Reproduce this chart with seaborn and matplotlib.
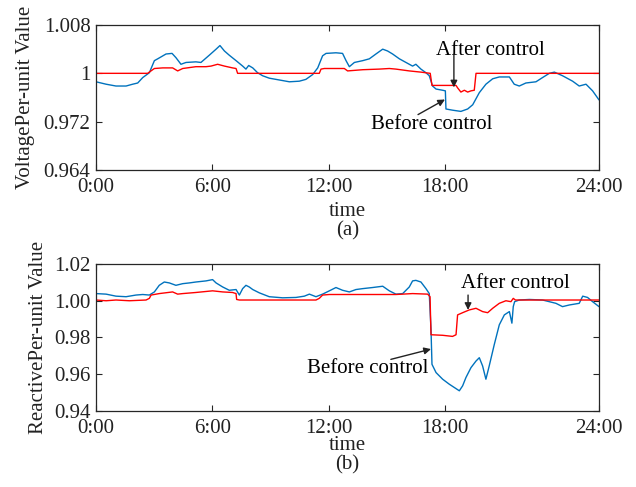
import matplotlib
matplotlib.use("Agg")
import matplotlib.pyplot as plt
import seaborn as sns
import pandas as pd

# ---------------- data (x in hours-of-axis units, as drawn) ----------------
volt_before_t = [0.00, 0.52, 1.03, 1.55, 1.89, 2.15, 2.41, 2.75, 3.01, 3.18, 3.61, 3.92, 4.12, 4.38,
                 4.64, 5.15, 5.41, 5.84, 6.19, 6.39, 6.62, 6.87, 7.22, 7.56, 7.73, 7.87, 8.08, 8.33,
                 8.59, 8.93, 9.45, 9.97, 10.48, 10.82, 11.17, 11.43, 11.68, 11.86, 12.37, 12.71,
                 12.89, 13.06, 13.32, 13.75, 14.09, 14.43, 14.78, 15.03, 15.29, 15.64, 15.98, 16.32,
                 16.49, 16.75, 17.01, 17.18, 17.35, 17.53, 17.87, 18.01, 18.04, 18.38, 18.81, 19.16,
                 19.42, 19.76, 20.10, 20.45, 20.79, 21.31, 21.56, 21.82, 22.16, 22.68, 23.02, 23.37,
                 23.63, 24.05, 24.57, 24.91, 25.26, 25.60, 25.93]
volt_before_v = [0.9986, 0.9982, 0.9979, 0.9979, 0.9982, 0.9984, 0.9993, 1.0001, 1.0021, 1.0024,
                 1.0032, 1.0033, 1.0026, 1.0015, 1.0018, 1.0019, 1.0018, 1.0030, 1.0040, 1.0046,
                 1.0037, 1.0030, 1.0021, 1.0012, 1.0007, 1.0013, 1.0009, 1.0001, 0.9996, 0.9992,
                 0.9989, 0.9986, 0.9987, 0.9990, 0.9998, 1.0009, 1.0029, 1.0033, 1.0034, 1.0033,
                 1.0021, 1.0011, 1.0018, 1.0021, 1.0024, 1.0032, 1.0040, 1.0037, 1.0032, 1.0024,
                 1.0018, 1.0012, 1.0015, 1.0007, 1.0001, 0.9996, 0.9979, 0.9974, 0.9972, 0.9971,
                 0.9941, 0.9939, 0.9937, 0.9941, 0.9948, 0.9968, 0.9982, 0.9991, 0.9994, 0.9994,
                 0.9982, 0.9979, 0.9984, 0.9986, 0.9993, 1.0000, 1.0002, 0.9996, 0.9987, 0.9979,
                 0.9982, 0.9971, 0.9956]

volt_after_t = [0.00, 2.66, 3.01, 3.44, 3.95, 4.21, 4.47, 5.15, 5.67, 5.93, 6.27, 6.62, 7.04, 7.22,
                7.30, 11.51, 11.60, 11.77, 12.80, 12.97, 13.75, 14.60, 15.12, 15.46, 16.15, 16.75,
                17.23, 17.32, 18.56, 18.64, 18.81, 18.99, 19.16, 19.33, 19.50, 19.59, 25.93]
volt_after_v = [1.0000, 1.0000, 1.0008, 1.0009, 1.0009, 1.0004, 1.0008, 1.0011, 1.0011, 1.0012,
                1.0015, 1.0012, 1.0009, 1.0008, 1.0000, 1.0000, 1.0007, 1.0008, 1.0008, 1.0004,
                1.0006, 1.0007, 1.0008, 1.0007, 1.0004, 1.0002, 1.0000, 0.9980, 0.9980, 0.9976,
                0.9969, 0.9972, 0.9969, 0.9971, 0.9972, 1.0000, 1.0000]

reac_before_t = [0.00, 0.52, 1.03, 1.55, 2.06, 2.41, 2.75, 3.01, 3.26, 3.52, 3.78, 4.12, 4.47, 4.81,
                 5.15, 5.67, 6.01, 6.19, 6.53, 6.87, 7.22, 7.39, 7.56, 7.73, 7.90, 8.08, 8.42, 8.93,
                 9.62, 10.31, 10.74, 11.00, 11.34, 11.68, 12.03, 12.37, 12.71, 13.06, 13.40, 13.75,
                 14.26, 14.78, 15.12, 15.46, 15.81, 16.15, 16.32, 16.49, 16.75, 17.01, 17.18, 17.27,
                 17.32, 17.53, 17.87, 18.21, 18.47, 18.73, 18.90, 19.07, 19.33, 19.59, 19.76, 19.93,
                 20.10, 20.27, 20.53, 20.79, 21.05, 21.31, 21.44, 21.51, 21.58, 21.82, 22.34, 23.02,
                 23.71, 24.05, 24.40, 24.91, 25.09, 25.34, 25.60, 25.93]
reac_before_v = [1.0039, 1.0036, 1.0025, 1.0022, 1.0031, 1.0034, 1.0031, 1.0048, 1.0084, 1.0102,
                 1.0097, 1.0084, 1.0093, 1.0097, 1.0102, 1.0108, 1.0115, 1.0097, 1.0075, 1.0057,
                 1.0061, 1.0031, 1.0066, 1.0084, 1.0075, 1.0061, 1.0043, 1.0022, 1.0016, 1.0018,
                 1.0025, 1.0036, 1.0022, 1.0036, 1.0054, 1.0072, 1.0057, 1.0048, 1.0061, 1.0066,
                 1.0072, 1.0079, 1.0054, 1.0036, 1.0039, 1.0075, 1.0108, 1.0111, 1.0102, 1.0066,
                 1.0039, 0.9842, 0.9654, 0.9609, 0.9573, 0.9546, 0.9528, 0.9510, 0.9537, 0.9582,
                 0.9636, 0.9672, 0.9690, 0.9645, 0.9573, 0.9645, 0.9761, 0.9869, 0.9923, 0.9941,
                 0.9878, 0.9968, 0.9995, 1.0004, 1.0007, 1.0004, 0.9986, 0.9968, 0.9977, 0.9986,
                 1.0025, 1.0018, 0.9995, 0.9968]

reac_after_t = [0.00, 0.52, 1.03, 1.72, 2.58, 2.75, 2.84, 3.26, 3.95, 4.21, 4.47, 5.15, 6.01, 6.53,
                7.04, 7.22, 7.25, 7.39, 11.34, 11.51, 11.68, 12.03, 13.75, 15.46, 16.32, 17.10,
                17.22, 17.27, 17.87, 18.38, 18.56, 18.64, 18.90, 19.24, 19.59, 19.93, 20.19, 20.45,
                20.79, 21.13, 21.39, 21.51, 21.62, 22.34, 25.93]
reac_after_v = [1.0004, 1.0000, 1.0004, 1.0000, 1.0004, 1.0013, 1.0031, 1.0039, 1.0048, 1.0036,
                1.0039, 1.0045, 1.0054, 1.0048, 1.0045, 1.0039, 1.0007, 1.0004, 1.0004, 1.0013,
                1.0031, 1.0034, 1.0034, 1.0034, 1.0039, 1.0036, 1.0022, 0.9815, 0.9812, 0.9806,
                0.9815, 0.9923, 0.9935, 0.9950, 0.9959, 0.9941, 0.9935, 0.9959, 0.9986, 1.0000,
                0.9995, 1.0013, 1.0004, 1.0004, 1.0004]

x_tick_pos = [0, 6, 12, 18, 25.93]
x_tick_labels = ["0:00", "6:00", "12:00", "18:00", "24:00"]
va_tick_pos = [0.984, 0.992, 1.000, 1.008]
va_tick_labels = ["0.964", "0.972", "1", "1.008"]
vb_tick_pos = [0.94, 0.96, 0.98, 1.00, 1.02]
vb_tick_labels = ["0.94", "0.96", "0.98", "1.00", "1.02"]

BLUE = "#0072BD"
RED = "#FF0000"
FRAME = "#262626"

sns.set_theme(style="ticks")
plt.rcParams["font.family"] = ["Liberation Serif", "DejaVu Serif"]
plt.rcParams["mathtext.fontset"] = "stix"

fig = plt.figure(figsize=(6.36, 4.87), dpi=100)
ax1 = fig.add_axes([96 / 636, 1 - 170 / 487, 503 / 636, 145 / 487])
ax2 = fig.add_axes([96 / 636, 1 - 411 / 487, 503 / 636, 147 / 487])

FS = 15


def draw(ax, bt, bv, at, av):
    sns.lineplot(x=bt, y=bv, ax=ax, color=BLUE, lw=1.0, estimator=None, sort=False)
    sns.lineplot(x=at, y=av, ax=ax, color=RED, lw=1.0, estimator=None, sort=False)
    ax.set_xlim(0, 25.93)
    ax.set_xticks(x_tick_pos)
    ax.set_xticklabels(x_tick_labels)
    for s in ax.spines.values():
        s.set_visible(True)
        s.set_color(FRAME)
        s.set_linewidth(0.9)
    ax.tick_params(direction="in", length=4.5, width=0.8, colors=FRAME,
                   top=True, right=True, labelsize=FS, labelcolor="#222222")
    ax.tick_params(axis="x", pad=6)
    ax.tick_params(axis="y", pad=4)


draw(ax1, volt_before_t, volt_before_v, volt_after_t, volt_after_v)
ax1.set_ylim(0.984, 1.008)
ax1.set_yticks(va_tick_pos)
ax1.set_yticklabels(va_tick_labels)
ax1.set_ylabel("VoltagePer-unit Value", fontsize=FS, color="#222222", labelpad=6.5)
ax1.set_xlabel("time", fontsize=FS, color="#222222", labelpad=3.5)

draw(ax2, reac_before_t, reac_before_v, reac_after_t, reac_after_v)
ax2.set_ylim(0.94, 1.02)
ax2.set_yticks(vb_tick_pos)
ax2.set_yticklabels(vb_tick_labels)
ax2.set_ylabel("ReactivePer-unit Value", fontsize=FS, color="#222222", labelpad=4.5)
ax2.set_xlabel("time", fontsize=FS, color="#222222", labelpad=-2)

arrow = dict(arrowstyle="-|>", color="#222222", lw=1.0, mutation_scale=10, shrinkA=0, shrinkB=0)

# panel (a) annotations
ax1.text(20.34, 1.0037, "After control", fontsize=FS, ha="center", va="center", color="black")
ax1.annotate("", xy=(18.45, 0.99767), xytext=(18.45, 1.0032), arrowprops=arrow)
ax1.text(17.32, 0.9915, "Before control", fontsize=FS, ha="center", va="center", color="black")
ax1.annotate("", xy=(17.99, 0.99567), xytext=(16.6, 0.99317), arrowprops=arrow)

# panel (b) annotations
ax2.text(21.62, 1.0095, "After control", fontsize=FS, ha="center", va="center", color="black")
ax2.annotate("", xy=(19.18, 0.995), xytext=(19.18, 1.0031), arrowprops=arrow)
ax2.text(14.0, 0.9632, "Before control", fontsize=FS, ha="center", va="center", color="black")
ax2.annotate("", xy=(17.27, 0.9737), xytext=(15.2, 0.9681), arrowprops=arrow)

fig.text(347.5 / 636, 1 - 231 / 487, "(a)", fontsize=FS, ha="center", va="center", color="#222222")
fig.text(347.5 / 636, 1 - 465 / 487, "(b)", fontsize=FS, ha="center", va="center", color="#222222")

fig.savefig("out.png", dpi=100)
